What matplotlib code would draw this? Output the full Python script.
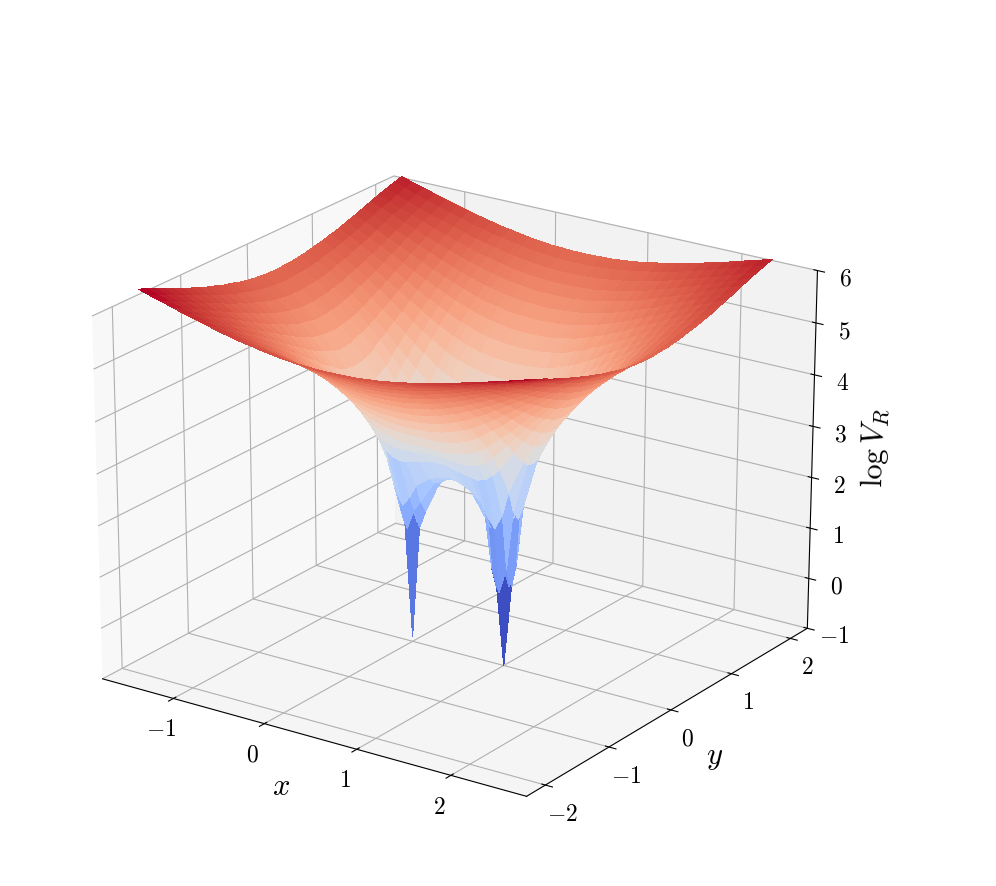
import numpy as np
import matplotlib
matplotlib.use('Agg')
import matplotlib.pyplot as plt
from matplotlib import cm

plt.rcParams['mathtext.fontset'] = 'cm'
plt.rcParams['font.family'] = 'serif'
plt.rcParams['font.serif'] = ['cmr10', 'DejaVu Serif']
plt.rcParams['axes.formatter.use_mathtext'] = True

# right half of the grid, the surface looks mirrored about x=0.5 and y=0
x_half = [0.5, 0.6, 0.7, 0.85, 0.92, 1.0, 1.08, 1.15, 1.3, 1.4, 1.5, 1.625, 1.75,
          1.875, 2.0, 2.125, 2.25, 2.375, 2.5]
y_half = [0.0, 0.08, 0.15, 0.3, 0.4, 0.5, 0.625, 0.75, 0.875, 1.0, 1.125, 1.25,
          1.375, 1.5, 1.625, 1.75, 1.875, 2.0]

z_rows = [
    [2.45, 2.40, 2.28, 1.65, 0.50, -1.0, 0.60, 1.95, 3.09, 3.50, 3.82, 4.15, 4.44, 4.69, 4.91, 5.11, 5.29, 5.46, 5.61],
    [2.48, 2.44, 2.33, 1.90, 0.95, 0.50, 1.00, 2.15, 3.13, 3.52, 3.83, 4.16, 4.45, 4.69, 4.91, 5.11, 5.29, 5.46, 5.61],
    [2.57, 2.53, 2.46, 2.26, 2.00, 1.80, 2.10, 2.59, 3.23, 3.58, 3.87, 4.18, 4.47, 4.71, 4.93, 5.12, 5.30, 5.47, 5.62],
    [2.95, 2.93, 2.88, 2.82, 2.80, 2.85, 2.97, 3.12, 3.51, 3.77, 4.01, 4.29, 4.54, 4.76, 4.97, 5.16, 5.33, 5.49, 5.64],
    [3.18, 3.17, 3.14, 3.13, 3.14, 3.19, 3.28, 3.41, 3.71, 3.92, 4.13, 4.38, 4.61, 4.82, 5.02, 5.20, 5.36, 5.52, 5.66],
    [3.37, 3.37, 3.37, 3.40, 3.44, 3.50, 3.58, 3.67, 3.91, 4.08, 4.26, 4.48, 4.69, 4.88, 5.07, 5.24, 5.40, 5.55, 5.69],
    [3.66, 3.66, 3.67, 3.70, 3.74, 3.79, 3.86, 3.94, 4.14, 4.28, 4.44, 4.63, 4.81, 4.99, 5.16, 5.32, 5.47, 5.61, 5.74],
    [3.91, 3.92, 3.93, 3.98, 4.02, 4.07, 4.13, 4.19, 4.35, 4.47, 4.60, 4.76, 4.92, 5.08, 5.23, 5.38, 5.52, 5.65, 5.78],
    [4.16, 4.17, 4.18, 4.22, 4.26, 4.30, 4.36, 4.41, 4.55, 4.65, 4.77, 4.91, 5.05, 5.19, 5.33, 5.47, 5.60, 5.72, 5.84],
    [4.39, 4.40, 4.41, 4.45, 4.48, 4.52, 4.58, 4.62, 4.74, 4.83, 4.92, 5.04, 5.17, 5.30, 5.42, 5.54, 5.66, 5.78, 5.89],
    [4.60, 4.61, 4.62, 4.66, 4.69, 4.72, 4.76, 4.81, 4.91, 4.99, 5.07, 5.18, 5.29, 5.40, 5.52, 5.63, 5.75, 5.85, 5.96],
    [4.80, 4.81, 4.82, 4.85, 4.88, 4.91, 4.94, 4.98, 5.07, 5.14, 5.21, 5.31, 5.41, 5.51, 5.62, 5.72, 5.83, 5.93, 6.02],
    [4.98, 4.99, 5.00, 5.03, 5.05, 5.08, 5.11, 5.14, 5.22, 5.28, 5.35, 5.43, 5.53, 5.62, 5.72, 5.81, 5.91, 6.00, 6.09],
    [5.16, 5.16, 5.17, 5.20, 5.22, 5.24, 5.27, 5.30, 5.37, 5.42, 5.48, 5.56, 5.64, 5.72, 5.81, 5.90, 5.99, 6.08, 6.16],
    [5.32, 5.32, 5.33, 5.35, 5.37, 5.39, 5.42, 5.45, 5.51, 5.55, 5.61, 5.68, 5.75, 5.83, 5.91, 5.99, 6.07, 6.15, 6.24],
    [5.47, 5.47, 5.48, 5.50, 5.52, 5.54, 5.56, 5.59, 5.64, 5.68, 5.73, 5.79, 5.86, 5.93, 6.00, 6.07, 6.15, 6.23, 6.31],
    [5.61, 5.61, 5.62, 5.64, 5.66, 5.67, 5.70, 5.72, 5.77, 5.80, 5.85, 5.90, 5.97, 6.03, 6.10, 6.17, 6.24, 6.31, 6.38],
    [5.75, 5.75, 5.76, 5.77, 5.79, 5.80, 5.82, 5.84, 5.89, 5.92, 5.96, 6.01, 6.07, 6.13, 6.19, 6.25, 6.32, 6.38, 6.45],
]

# the well at x=0 is shallower around its tip than the one at x=1
z_left_tip = -0.9
z_left_ring = 1.3
z_left_diag = 1.7

# the back half (y>0) sits a little lower than the front half
back_drop = [0.0, 0.0, 0.0, 0.01, 0.01, 0.02, 0.03, 0.04, 0.05, 0.06, 0.07, 0.08,
             0.09, 0.10, 0.12, 0.14, 0.16, 0.18]

x_ticks = [-1, 0, 1, 2]
y_ticks = [-2, -1, 0, 1, 2]
z_ticks = [-1, 0, 1, 2, 3, 4, 5, 6]

xh = np.array(x_half)
yh = np.array(y_half)
zh = np.array(z_rows)

x = np.concatenate([1.0 - xh[:0:-1], xh])
y = np.concatenate([-yh[:0:-1], yh])
z = np.hstack([zh[:, :0:-1], zh])
z = np.vstack([z[:0:-1], z])

j0 = np.argmin(np.abs(y))
i0 = np.argmin(np.abs(x))
z[j0 - 1:j0 + 2, i0 - 1:i0 + 2] = z_left_diag
z[j0, i0 - 1:i0 + 2] = z_left_ring
z[j0 - 1:j0 + 2, i0] = z_left_ring
z[j0, i0] = z_left_tip
z[j0:] -= np.array(back_drop)[:, None]
X, Y = np.meshgrid(x, y)

fig = plt.figure(figsize=(9.96, 8.86))
ax = fig.add_axes([0.0285, 0.0465, 0.84, 0.811], projection='3d')
# let the box fill the whole rectangle instead of staying square
ax.apply_aspect = lambda position=None: None
ax.view_init(elev=25, azim=-55.5)
ax.set_proj_type('persp', focal_length=1.5)
ax.set_box_aspect((4, 4, 3.6))
ax.plot_surface(X, Y, z, cmap=cm.coolwarm, linewidth=0, antialiased=False,
                rcount=50, ccount=50)

ax.set_zlim(-1, 6)
ax.set_xticks(x_ticks)
ax.set_yticks(y_ticks)
ax.set_zticks(z_ticks)
ax.tick_params(labelsize=17)
ax.set_xlabel(r'$x$', fontsize=22, labelpad=7)
ax.set_ylabel(r'$y$', fontsize=22, labelpad=9)
ax.set_zlabel(r'$\log V_R$', fontsize=22, labelpad=5)

fig.savefig('out.png', dpi=100)
